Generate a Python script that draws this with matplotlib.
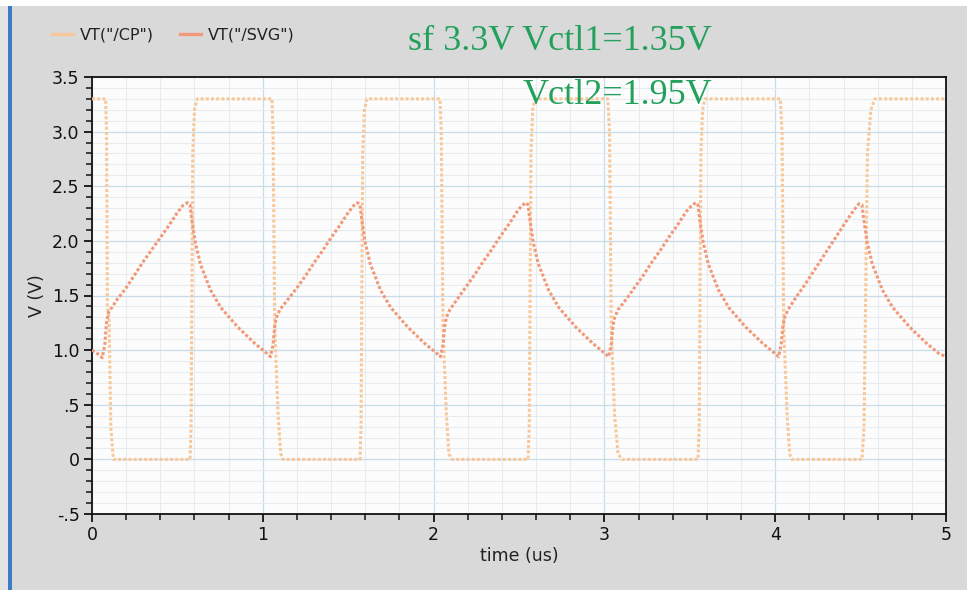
import matplotlib
matplotlib.use("Agg")
import matplotlib.pyplot as plt
from matplotlib.lines import Line2D
from matplotlib.patches import Rectangle
from matplotlib.ticker import MultipleLocator, FixedLocator

# --- waveform data (time in us, voltage in V) ---
cp_t = [0.00, 0.08, 0.085, 0.09, 0.10, 0.11, 0.125,
        0.574, 0.58, 0.59, 0.60, 0.615,
        1.054, 1.06, 1.07, 1.09, 1.105, 1.118,
        1.569, 1.575, 1.585, 1.595, 1.61,
        2.037, 2.045, 2.055, 2.075, 2.09, 2.108,
        2.553, 2.56, 2.57, 2.58, 2.594,
        3.02, 3.03, 3.04, 3.06, 3.08, 3.103,
        3.548, 3.555, 3.565, 3.575, 3.589,
        4.03, 4.04, 4.05, 4.07, 4.085, 4.098,
        4.508, 4.52, 4.54, 4.56, 4.584,
        5.00]
cp_v = [3.30, 3.30, 3.00, 1.40, 1.30, 0.30, 0.00,
        0.00, 0.30, 2.80, 3.20, 3.30,
        3.30, 3.00, 1.20, 0.40, 0.05, 0.00,
        0.00, 0.30, 2.80, 3.20, 3.30,
        3.30, 3.00, 1.20, 0.40, 0.05, 0.00,
        0.00, 0.30, 2.80, 3.20, 3.30,
        3.30, 3.00, 1.20, 0.40, 0.05, 0.00,
        0.00, 0.30, 2.80, 3.20, 3.30,
        3.30, 3.00, 1.20, 0.40, 0.05, 0.00,
        0.00, 0.30, 2.80, 3.20, 3.30,
        3.30]

svg_t = [0.00, 0.03, 0.06, 0.075, 0.085, 0.095, 0.12, 0.15, 0.20, 0.25, 0.30, 0.35,
         0.40, 0.45, 0.50, 0.53, 0.56,
         0.574, 0.584, 0.604, 0.634, 0.694, 0.754, 0.854, 0.954, 1.024, 1.045,
         1.06, 1.07, 1.08, 1.10, 1.15, 1.20, 1.25, 1.30, 1.35, 1.40, 1.45, 1.50, 1.53, 1.555,
         1.569, 1.579, 1.599, 1.629, 1.689, 1.749, 1.849, 1.949, 2.019, 2.04,
         2.055, 2.065, 2.075, 2.095, 2.14, 2.19, 2.24, 2.29, 2.34, 2.39, 2.44, 2.49, 2.515, 2.54,
         2.553, 2.563, 2.583, 2.613, 2.673, 2.733, 2.833, 2.933, 3.003, 3.025,
         3.04, 3.05, 3.06, 3.08, 3.13, 3.18, 3.23, 3.28, 3.33, 3.38, 3.43, 3.48, 3.51, 3.535,
         3.548, 3.558, 3.578, 3.608, 3.668, 3.728, 3.828, 3.928, 3.998, 4.02,
         4.035, 4.045, 4.055, 4.075, 4.12, 4.17, 4.22, 4.27, 4.32, 4.37, 4.42, 4.46, 4.49,
         4.508, 4.518, 4.538, 4.568, 4.628, 4.688, 4.788, 4.888, 4.958, 5.00]
svg_v = [1.00, 0.97, 0.93, 1.05, 1.25, 1.34, 1.40, 1.47, 1.57, 1.69, 1.81, 1.92,
         2.03, 2.14, 2.26, 2.32, 2.35,
         2.33, 2.20, 1.99, 1.79, 1.55, 1.39, 1.21, 1.06, 0.97, 0.94,
         1.05, 1.22, 1.30, 1.37, 1.47, 1.57, 1.68, 1.80, 1.91, 2.03, 2.14, 2.26, 2.32, 2.35,
         2.33, 2.20, 1.99, 1.79, 1.55, 1.39, 1.21, 1.06, 0.97, 0.94,
         1.05, 1.22, 1.30, 1.37, 1.47, 1.58, 1.69, 1.81, 1.92, 2.04, 2.15, 2.27, 2.32, 2.35,
         2.33, 2.20, 1.99, 1.79, 1.55, 1.39, 1.21, 1.06, 0.97, 0.94,
         1.05, 1.22, 1.30, 1.37, 1.47, 1.58, 1.69, 1.81, 1.92, 2.04, 2.15, 2.27, 2.32, 2.35,
         2.33, 2.20, 1.99, 1.79, 1.55, 1.39, 1.21, 1.06, 0.97, 0.94,
         1.05, 1.22, 1.30, 1.37, 1.48, 1.59, 1.71, 1.83, 1.95, 2.07, 2.19, 2.28, 2.34,
         2.33, 2.20, 1.99, 1.79, 1.55, 1.39, 1.21, 1.06, 0.97, 0.94]

series_names = ['VT("/CP")', 'VT("/SVG")']
series_colors = ['#f8c89a', '#f19a7a']

y_ticks = [-0.5, 0.0, 0.5, 1.0, 1.5, 2.0, 2.5, 3.0, 3.5]
y_tick_labels = ["-.5", "0", ".5", "1.0", "1.5", "2.0", "2.5", "3.0", "3.5"]
x_ticks = [0, 1, 2, 3, 4, 5]
x_tick_labels = ["0", "1", "2", "3", "4", "5"]

title_line1 = "sf 3.3V Vctl1=1.35V"
title_line2 = "Vctl2=1.95V"

# --- figure ---
W, H = 967, 590
fig = plt.figure(figsize=(W / 100, H / 100), dpi=100)
fig.patch.set_facecolor("white")

# window panel background and left accent stripe
fig.add_artist(Rectangle((0, 0), 1, 1 - 6 / H, transform=fig.transFigure,
                         facecolor="#d9d9d9", edgecolor="none", zorder=-10))
fig.add_artist(Rectangle((0, 0), 8 / W, 1 - 6 / H, transform=fig.transFigure,
                         facecolor="#e3e3e3", edgecolor="none", zorder=-9))
fig.add_artist(Rectangle((8 / W, 0), 4 / W, 1 - 6 / H, transform=fig.transFigure,
                         facecolor="#3c7bc8", edgecolor="none", zorder=-8))

ax = fig.add_axes([92 / W, 1 - 514 / H, (946 - 92) / W, (514 - 77) / H])
ax.set_facecolor("#fcfcfc")

ax.set_xlim(0, 5)
ax.set_ylim(-0.5, 3.5)

ax.xaxis.set_major_locator(FixedLocator(x_ticks))
ax.set_xticklabels(x_tick_labels)
ax.yaxis.set_major_locator(FixedLocator(y_ticks))
ax.set_yticklabels(y_tick_labels)
ax.xaxis.set_minor_locator(MultipleLocator(0.2))
ax.yaxis.set_minor_locator(MultipleLocator(0.1))

ax.grid(which="major", color="#c9dcea", linewidth=0.9, zorder=0)
ax.grid(which="minor", color="#e8ecf1", linewidth=0.8, zorder=0)
ax.set_axisbelow(True)

ax.tick_params(axis="both", which="major", direction="out", length=6, width=1.3,
               colors="#111111", labelsize=12.5, pad=3)
ax.tick_params(axis="both", which="minor", direction="out", length=4, width=1.1,
               colors="#111111")
for s in ax.spines.values():
    s.set_color("#111111")
    s.set_linewidth(1.3)

ax.plot(cp_t, cp_v, color=series_colors[0], linewidth=2.2,
        linestyle=(0, (1.0, 0.7)), zorder=3)
ax.plot(svg_t, svg_v, color=series_colors[1], linewidth=2.2,
        linestyle=(0, (1.0, 0.7)), zorder=4)

ax.set_xlabel("time (us)", fontsize=12.5, color="#222222", labelpad=2)
ax.set_ylabel("V (V)", fontsize=12.5, color="#222222", labelpad=4)

# legend along the top of the window
handles = [Line2D([0], [0], color=c, linewidth=2.4) for c in series_colors]
fig.legend(handles, series_names, loc="center left",
           bbox_to_anchor=(38 / W, 1 - 35 / H), ncol=2, frameon=False,
           fontsize=11.5, handlelength=1.3, handletextpad=0.45,
           columnspacing=1.6, labelcolor="#222222")

green = "#22a05c"
fig.text(712 / W, 1 - 42 / H, title_line1, ha="right", va="center",
         family="Liberation Serif", fontsize=26, color=green)
fig.text(712 / W, 1 - 95 / H, title_line2, ha="right", va="center",
         family="Liberation Serif", fontsize=26, color=green)

fig.savefig("out.png", dpi=100, facecolor=fig.get_facecolor())
